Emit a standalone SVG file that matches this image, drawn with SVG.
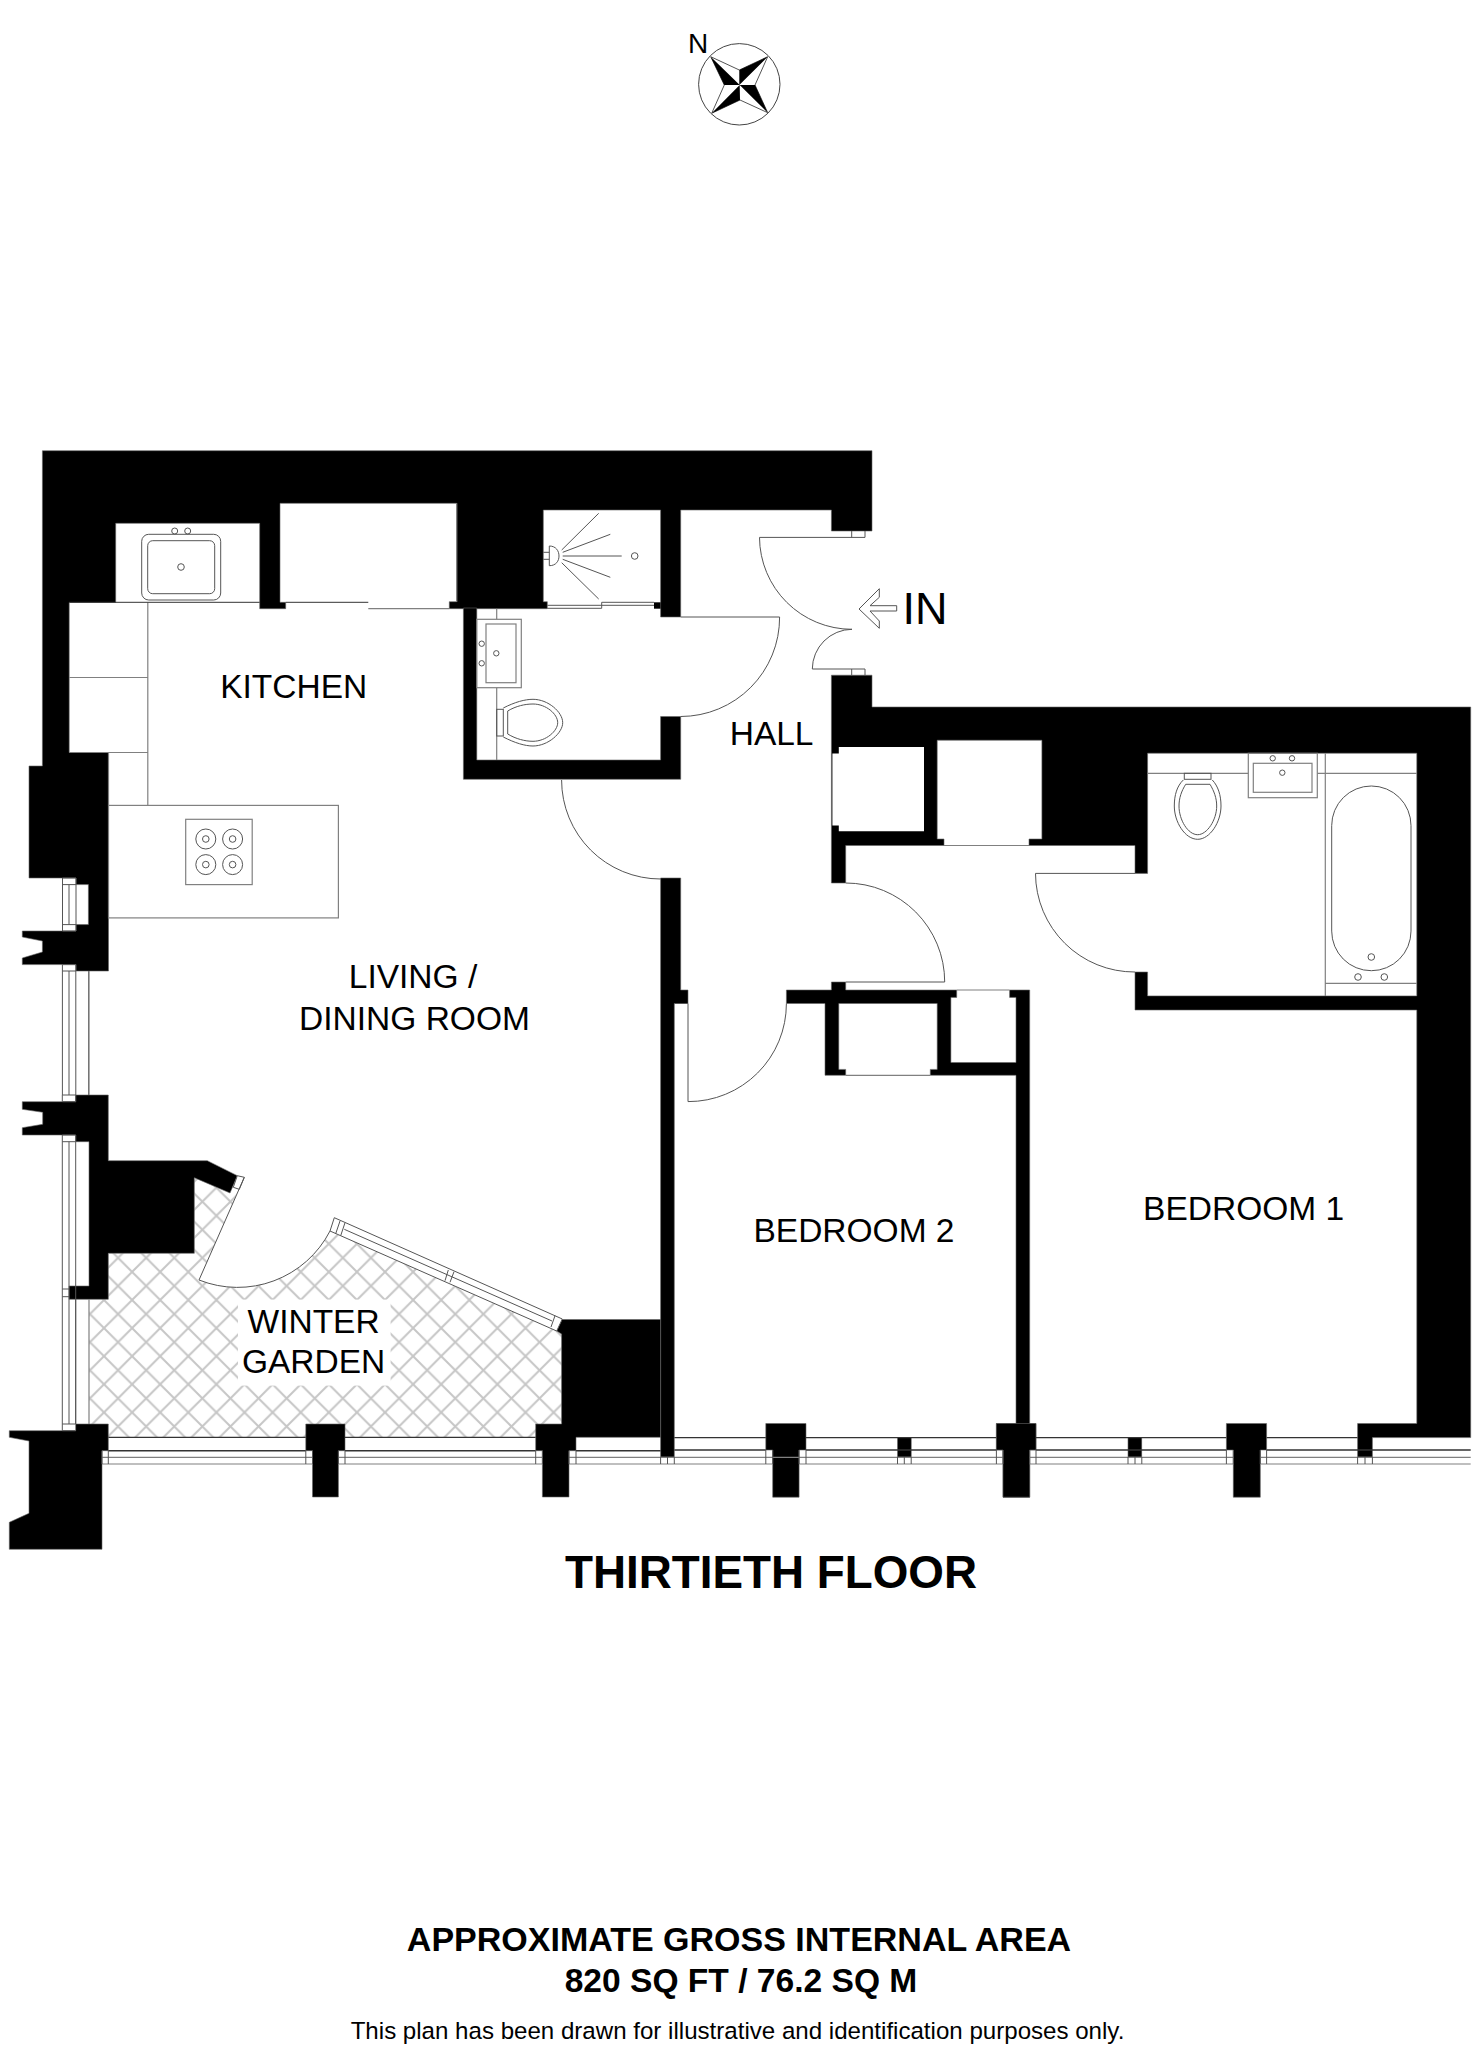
<svg xmlns="http://www.w3.org/2000/svg" width="1479" height="2048" viewBox="0 0 1479 2048">
<style>
text{font-family:"Liberation Sans",Arial,sans-serif;fill:#000}
.r{font-size:33.5px;text-anchor:middle}
.t{font-weight:bold;text-anchor:middle}
.w{fill:#000;stroke:#666;stroke-width:.6}
.l{fill:none;stroke:#555;stroke-width:1}
.g{fill:none;stroke:#808080;stroke-width:1.2}
.f{fill:#fff;stroke:#555;stroke-width:1}
</style>
<defs>
<pattern id="hatch" patternUnits="userSpaceOnUse" x="104" y="1384.3" width="28.1" height="28.1">
<path d="M0 0L28.1 28.1M28.1 0L0 28.1" stroke="#c6c6c6" stroke-width="2" fill="none"/>
</pattern>
</defs>
<rect width="1479" height="2048" fill="#fff"/>

<g id="compass">
<circle cx="739.3" cy="84.3" r="40.7" fill="#fff" stroke="#444" stroke-width="1"/>
<path class="l" d="M710.7 56.7L739.3 70L767.7 56.7L755 85L767.7 112.7L740 100L711.7 113.3L724.3 85Z"/>
<path d="M710.7 56.7L724.3 85H739.7ZM767.7 56.7L739.3 70V85ZM767.7 112.7L739.7 85H755ZM711.7 113.3L739.7 85L740 100Z" fill="#000"/>
<text x="698" y="53.3" font-size="28" text-anchor="middle">N</text>
</g>

<g id="winter-garden">
<path d="M89 1299.3H108.3V1253.3H194.3V1177.7L230 1193L239 1189L199 1280A104 104 0 0 0 330 1231L556.7 1331L561.6 1334V1437.3H108.3V1424H89Z" fill="url(#hatch)"/>
<rect x="238" y="1299.6" width="152.6" height="86" fill="#fff"/>
</g>

<g id="walls">
<path class="w" d="M42.4 450.7H872V531H831.4V510H680.7V617H660.6V510H543.3V601.7H547.3V608.7H449.3V601.7H456.7V503.3H280V602.3H285.7V608.7H259.7V523.3H115.7V602.5H69.2V752.5H108.5V971H76V964.6H22.3V958L42.4 952V941L22.3 937V931H76V924.6H88.4V884.6H76V878H29V766H42.4Z"/>
<path class="w" d="M463.4 608H476.8V760H660.6V716.5H680.7V779.3H463.4Z"/>
<path class="w" d="M660.6 878H680.7V990H688V1003.5H674.3V1457H660.6Z"/>
<path class="w" d="M561.6 1319.5H660.6V1437.3H576V1450.7H569V1497H542.4V1450.7H535.7V1424H561.6V1334L556.7 1331Z"/>
<path class="w" d="M305.8 1424H345V1450.7H338.4V1497H312.5V1450.7H305.8Z"/>
<path class="w" d="M75.7 1424H108.3V1450.7H102V1549.3H9.3V1522.3L29 1513.3V1441L9.3 1437.3V1430.7H75.7Z"/>
<path class="w" d="M75.7 1095H108.3V1160.7H207.3L237.3 1175.7L230 1193L194.3 1177.7V1253.3H108.3V1299.3H69V1286H89V1141.7H75.7V1135H22.3V1127.7L42.7 1124.3V1112.3L22.3 1109.3V1101.7H75.7Z"/>
<path class="w" d="M831.4 675.2H872V707H1470.7V1437.6H1372.4V1457H1357.6V1423.5H1416.8V1010H1135V972H1147.6V995.9H1416.8V753.2H1147.6V873.4H1135V845.5H1029V839H1041.9V740.2H937.2V839H944V845.5H845.7V883H831.4Z"/>
<path d="M832.4 753.6H838.8V747H924V831.3H838.8V825.6H832.4Z" fill="#fff"/>
<path class="w" d="M831.4 982H845.7V990H956.7V997.4H950.9V1062.5H1016V997.4H1009.6V990H1029.7V1423.5H1036V1450H1029.7V1497.2H1003V1450H996.4V1423.5H1016V1075.3H930.3V1069.4H937.2V1003.5H838.8V1069.4H845.7V1075.3H825V1003.5H786.4V990H831.4Z"/>
<path class="w" d="M765.8 1423.5H806V1450H799.1V1497.2H772.7V1450H765.8Z"/>
<path class="w" d="M996.4 1423.5H1036V1450H1029.7V1497.2H1003V1450H996.4Z"/>
<path class="w" d="M1226.4 1423.5H1266.6V1450H1260.3V1497.2H1233.3V1450H1226.4Z"/>
<rect class="w" x="897.5" y="1437.6" width="13.7" height="19.4"/>
<rect class="w" x="1128" y="1437.6" width="13.8" height="19.4"/>
<path class="g" d="M944 845.5H1029M956.7 990H1009.6M845.7 1075.3H930.3"/>
</g>

<g id="windows">
<path class="l" d="M62.5 878V931M69 884.6V924.6M76 878V931M62.5 878H76M62.5 884.6H76M62.5 924.6H76M62.5 931H76"/>
<path class="l" d="M62.4 964.6V1095M69 971V1095M75.8 964.6V1095M88.6 971V1095M62.4 964.6H76M62.4 971H76M62.4 1095H76M62.4 1101.7H76"/>
<path class="l" d="M62.3 1101.7V1095M75.7 1095V1101.7M62.3 1135V1424M69 1141.7V1424M75.7 1135V1424M62.3 1135H75.7M62.3 1141.7H75.7M62.3 1289H69M62.3 1296.7H69M62.3 1424H75.7M62.3 1430.7H75.7M75.7 1299.3V1424M62.3 1424V1430.7"/>
<path class="g" d="M89 1299.3V1424M89 971V1095"/>
<path d="M108.3 1437.3H305.8M345 1437.3H535.7M674.3 1437.6H765.8M806 1437.6H996.4M1036 1437.6H1226.4M1266.6 1437.6H1357.6" fill="none" stroke="#333" stroke-width="1.2"/>
<path d="M108.3 1450.7H305.8M345 1450.7H535.7M576 1450.7H660.6M674.3 1450H765.8M806 1450H996.4M1036 1450H1226.4M1266.6 1450H1470.7" fill="none" stroke="#333" stroke-width="1.4"/>
<path class="g" d="M102 1457.3H312.5M338.4 1457.3H542.4M569 1457.3H1003M1029.7 1457.3H1233.3M1260.3 1457.3H1470.7M102 1464H312.5M338.4 1464H542.4M569 1464H772.7M799.1 1464H1003M1029.7 1464H1233.3M1260.3 1464H1470.7"/>
<path class="l" d="M102 1450.7V1464M108.3 1450.7V1464M305.8 1450.7V1464M312.5 1450.7V1464M338.4 1450.7V1464M345 1450.7V1464M535.7 1450.7V1464M542.4 1450.7V1464M569 1450.7V1464M576 1450.7V1464M660.6 1457V1464M667.5 1457V1464M674.3 1457V1464M765.8 1450V1464M772.7 1450V1464M799.1 1450V1464M806 1450V1464M897.5 1457V1464M904.3 1457V1464M911.2 1457V1464M996.4 1450V1464M1003 1450V1464M1029.7 1450V1464M1036 1450V1464M1128 1457V1464M1135 1457V1464M1141.8 1457V1464M1226.4 1450V1464M1233.3 1450V1464M1260.3 1450V1464M1266.6 1450V1464M1357.6 1457V1464M1365 1457V1464M1372.4 1457V1464"/>
<path class="f" d="M334.3 1217.7L562.3 1319L556.7 1331L330 1231Z"/>
<path class="l" d="M344.3 1229.3L552 1321M340 1221L335.7 1233.7M345 1222.7L340.7 1235.7M448.3 1270L445 1280.7M454 1271.7L450 1282.3M555 1315.7L551 1327"/>
<path class="f" d="M237.3 1175.7L244.3 1177.3L239.3 1189.3L233.3 1187.3Z"/>
</g>

<g id="doors">
<path class="l" d="M244.3 1177.3L199 1280A104 104 0 0 0 330 1231"/>
<path class="l" d="M865 537.4H759.5A92.5 92.5 0 0 0 852 629.3A40 40 0 0 0 812.3 669H865M851.7 531V537.4M865 531V537.4M851.7 669V675.2M865 669V675.2"/>
<path class="l" d="M680.7 617H779.6A99 99 0 0 1 680.7 716.5"/>
<path class="l" d="M561.6 780A99 99 0 0 0 660.7 879"/>
<path class="l" d="M845.7 883A99 99 0 0 1 944.7 982H845.7"/>
<path class="l" d="M1135 873.4H1035.5A99 99 0 0 0 1135 972"/>
<path class="l" d="M674.3 1003.5H688V1101.6A98 98 0 0 0 786.4 1003.5"/>
</g>

<g id="arrow">
<path class="f" d="M859 609L879.3 588.7V597.3L870 605.7H896.7V611H870L879.3 621V628.3Z"/>
</g>

<g id="kitchen">
<path class="g" d="M147.8 602.5V805.4M69.2 677.5H147.8M69.2 752.5H147.8M108.5 752.5V805.4"/>
<path d="M69.2 602.3H259.7M285.7 602.3H368.3" fill="none" stroke="#333" stroke-width="1"/>
<path class="g" d="M368.3 608.7H449.3M456.7 503.3V602"/>
<rect class="g" x="108.5" y="805.4" width="229.9" height="112.5"/>
<rect class="g" x="185.7" y="819.3" width="66.5" height="65.3"/>
<g class="l">
<circle cx="205.8" cy="839" r="10"/><circle cx="232.6" cy="839" r="10"/><circle cx="205.8" cy="864.6" r="10"/><circle cx="232.6" cy="864.6" r="10"/>
<circle cx="205.8" cy="839" r="3.3"/><circle cx="232.6" cy="839" r="3.3"/><circle cx="205.8" cy="864.6" r="3.3"/><circle cx="232.6" cy="864.6" r="3.3"/>
</g>
<rect class="l" x="141.7" y="534.3" width="79" height="65.7" rx="7"/>
<rect class="l" x="147.7" y="540.7" width="67" height="53" rx="5"/>
<circle class="l" cx="174.7" cy="531" r="3"/><circle class="l" cx="187.7" cy="531" r="3"/><circle class="l" cx="181" cy="567" r="3.3"/>
</g>

<g id="shower-room">
<path class="l" d="M561.7 550L598.7 513.3M562.7 552.3L610.3 534.3M562.7 556H621.7M562.7 559.3L610.3 577.3M561.7 562.7L598.7 599"/>
<circle class="l" cx="634.7" cy="556" r="3.3"/>
<path class="l" d="M549.3 546C556 546 559 551 559 556C559 561 556 565.7 549.3 565.7ZM543.3 552.3H549.3M543.3 559.3H549.3"/>
<path class="l" d="M547.3 605.3H601.7M547.3 608.3H601.7M601.7 608.3V602.3H654M601.7 605.3H654"/>
<path d="M654 602.3H660.6V608.7H654Z" fill="#000"/>
<path class="g" d="M496.7 608.7V619.3M496.7 687.7V760"/>
<rect class="g" x="476.7" y="619.3" width="44.6" height="68.4"/>
<rect class="g" x="486" y="624" width="30" height="58.7"/>
<circle class="l" cx="481.7" cy="643.7" r="2.7"/><circle class="l" cx="481.7" cy="663.3" r="2.7"/><circle class="l" cx="496.3" cy="653.3" r="2.7"/>
<rect class="l" x="496.7" y="709.3" width="6.6" height="26.7"/>
<path class="l" d="M503.3 708C515 702 525 699.3 533 699.3C548 699.3 562.7 712 562.7 722.7C562.7 733 548 746 533 746C525 746 515 743 503.3 737"/>
<path class="l" d="M507.7 711C516 706 525 704 533 704C546 704 557.7 714 557.7 722.7C557.7 731 546 741.3 533 741.3C525 741.3 516 739 507.7 734Z"/>
</g>

<g id="bathroom">
<path class="g" d="M1147.6 773.3H1248.3M1317.3 773.3H1416.8M1325.3 753.3V996M1325.3 983.3H1416.8"/>
<rect class="g" x="1248.3" y="753.3" width="69" height="44.4"/>
<rect class="g" x="1253.3" y="763.3" width="58.7" height="29"/>
<circle class="l" cx="1272.7" cy="758.3" r="2.7"/><circle class="l" cx="1292" cy="758.3" r="2.7"/><circle class="l" cx="1282.3" cy="772.7" r="2.7"/>
<rect class="l" x="1331.7" y="786" width="79.3" height="184.7" rx="39.6" ry="39.6"/>
<circle class="l" cx="1371.3" cy="957" r="3.3"/><circle class="l" cx="1358" cy="977" r="3.3"/><circle class="l" cx="1384.3" cy="977" r="3.3"/>
<rect class="l" x="1184.3" y="773.3" width="26.7" height="6"/>
<path class="l" d="M1183.3 780C1177 786 1174.3 795 1174.3 806C1174.3 822 1185 839.3 1197.7 839.3C1210 839.3 1221 822 1221 806C1221 795 1218 786 1212.3 780"/>
<path class="l" d="M1185.7 784.3H1210C1214 791 1216.7 798 1216.7 806C1216.7 820 1207 834.7 1197.7 834.7C1188 834.7 1179 820 1179 806C1179 798 1181.5 791 1185.7 784.3Z"/>
</g>

<g id="labels">
<text class="r" x="293.7" y="697.7">KITCHEN</text>
<text class="r" x="771.6" y="744.8">HALL</text>
<text class="r" x="413" y="988.4">LIVING /</text>
<text class="r" x="414.5" y="1029.8">DINING ROOM</text>
<text class="r" x="313.6" y="1332.9">WINTER</text>
<text class="r" x="313.6" y="1373.4">GARDEN</text>
<text class="r" x="854" y="1241.9">BEDROOM 2</text>
<text class="r" x="1243.6" y="1219.8">BEDROOM 1</text>
<text x="925" y="624.3" font-size="45" text-anchor="middle">IN</text>
<text class="t" x="771" y="1588" font-size="45.8">THIRTIETH FLOOR</text>
<text class="t" x="739" y="1951" font-size="34">APPROXIMATE GROSS INTERNAL AREA</text>
<text class="t" x="741" y="1992" font-size="33.6">820 SQ FT / 76.2 SQ M</text>
<text x="737.5" y="2039" font-size="24.1" text-anchor="middle">This plan has been drawn for illustrative and identification purposes only.</text>
</g>
</svg>
